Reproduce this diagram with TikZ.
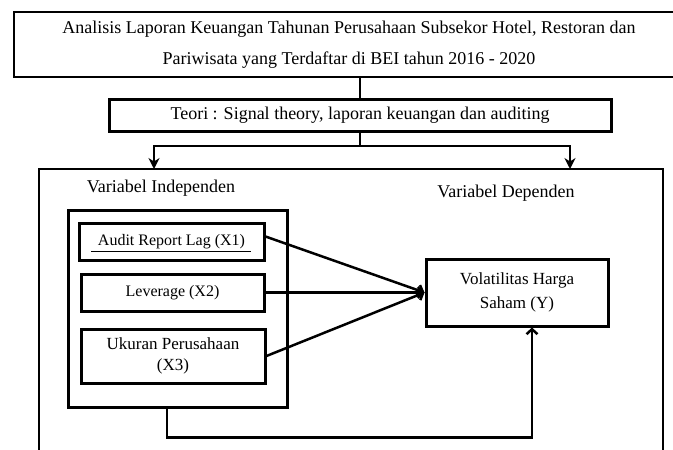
\documentclass[tikz,border=0pt]{standalone}
\usepackage{fontspec}
\setmainfont{Liberation Serif}
\usetikzlibrary{arrows.meta,calc}
\begin{document}
\begin{tikzpicture}[x=1pt,y=-1pt,
  txt/.style={font=\fontsize{18}{21}\selectfont, inner sep=0pt, align=center},
  box/.style={draw, line width=3pt, rectangle, inner sep=0pt, align=center, font=\fontsize{16}{21}\selectfont},
  conn/.style={line width=2.5pt},
  down/.style={conn, -{Stealth[length=11pt,width=11pt]}},
  toY/.style={conn, -{Straight Barb[length=5pt,width=11pt]}}]
\useasboundingbox (0,0) rectangle (673,450);
\clip (0,0) rectangle (673,450);
% title box
\node[draw, line width=1.3pt, minimum width=670pt, minimum height=65pt, inner sep=0pt,
      align=center, font=\fontsize{18}{31}\selectfont] (judul) at (349,44.5)
  {Analisis Laporan Keuangan Tahunan Perusahaan Subsekor Hotel, Restoran dan\\Pariwisata yang Terdaftar di BEI tahun 2016 - 2020};
% theory box
\node[box, minimum width=502pt, minimum height=32pt, font=\fontsize{18}{21}\selectfont] (teori) at (360,115)
  {Teori : Signal theory, laporan keuangan dan auditing};
% outer frame
\node[draw, line width=2pt, minimum width=624pt, minimum height=301pt] (outer) at (351,319.5) {};
\coordinate (split) at (360,146);
\coordinate (la) at (154,169);
\coordinate (ra) at (570,169);
\draw[conn] (judul.south -| teori.north) -- (teori.north);
\draw[conn] (teori.south) -- (split);
\draw[down] (split) -| (la);
\draw[down] (split) -| (ra);
% labels
\node[txt] (vi) at (161,188) {Variabel Independen};
\node[txt] (vd) at (506,193) {Variabel Dependen};
% independent group
\node[box, minimum width=219pt, minimum height=197pt] (indep) at (177.5,308.5) {};
\node[box, minimum width=185pt, minimum height=37pt] (audit) at (171.5,241.5) {Audit Report Lag (X1)};
\draw[line width=0.8pt] ($(audit.center)+(-80.5,9.5)$) -- ($(audit.center)+(79.5,9.5)$);
\node[box, minimum width=183pt, minimum height=37pt] (lev) at (172.5,292.5) {Leverage (X2)};
\node[box, minimum width=184pt, minimum height=54pt, font=\fontsize{17}{21}\selectfont] (uku) at (173,356) {Ukuran Perusahaan\\(X3)};
% dependent
\node[box, minimum width=182pt, minimum height=67pt, font=\fontsize{17}{24}\selectfont] (Y) at (517,292.5) {Volatilitas Harga\\Saham (Y)};
% connectors
\draw[toY] ($(audit.east)+(0,-5)$) -- (Y.west);
\draw[toY] (lev.east) -- (Y.west);
\draw[toY] (uku.east) -- (Y.west);
\coordinate (b1) at ($(indep.south)+(-10.5,0)$);
\coordinate (b2) at ($(Y.south)+(15,0)$);
\draw[toY] (b1) -- ++(0,29) -| (b2);
\end{tikzpicture}
\end{document}
